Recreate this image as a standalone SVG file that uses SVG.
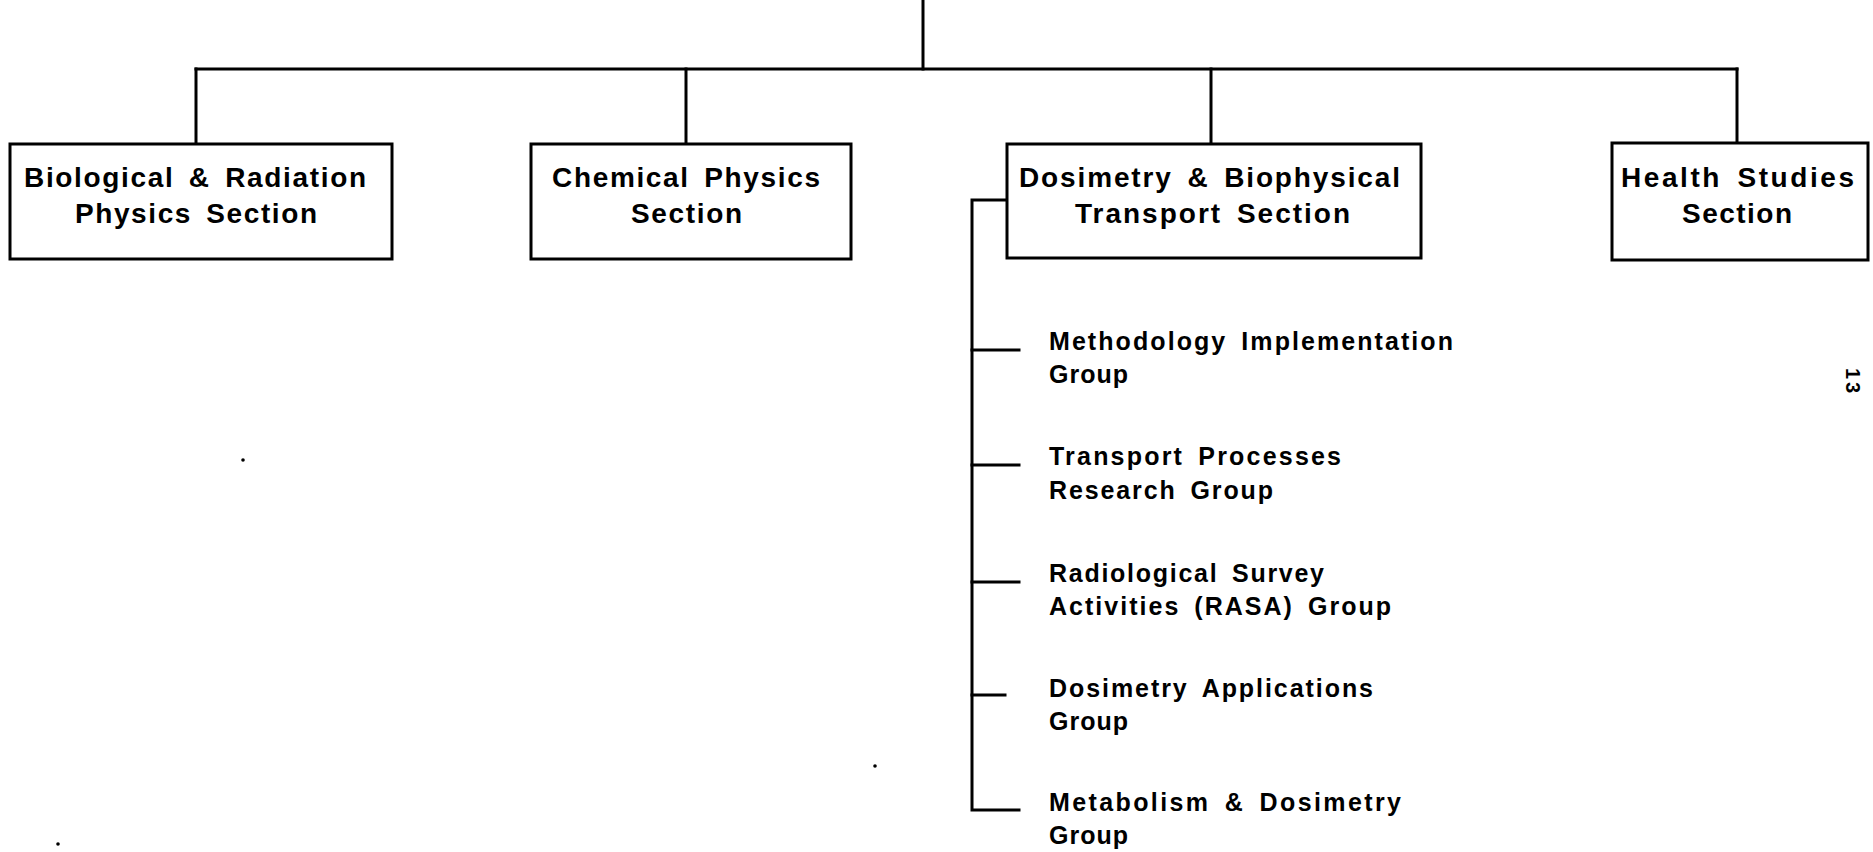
<svg xmlns="http://www.w3.org/2000/svg" width="1873" height="852" viewBox="0 0 1873 852">
<style>
.bg{fill:#fff}
.box{fill:#fff;stroke:#000;stroke-width:3}
.ln{fill:none;stroke:#000;stroke-width:3;stroke-linecap:square}
.sec{font-family:"Liberation Sans",Arial,sans-serif;font-weight:bold;font-size:28px;word-spacing:5px;fill:#000}
.grp{font-family:"Liberation Sans",Arial,sans-serif;font-weight:bold;font-size:25px;word-spacing:5px;fill:#000}
.pg{font-family:"Liberation Sans",Arial,sans-serif;font-weight:bold;font-size:20px;fill:#000}
</style>
<rect class="bg" x="0" y="0" width="1873" height="852"/>
<g id="connectors">
<path class="ln" d="M923,0 V69"/>
<path class="ln" d="M196,69 H1737"/>
<path class="ln" d="M196,69 V142"/>
<path class="ln" d="M686,69 V142"/>
<path class="ln" d="M1211,69 V142"/>
<path class="ln" d="M1737,69 V141"/>
<path class="ln" d="M1007,200 H972 V810 H1019"/>
<path class="ln" d="M972,350 H1019"/>
<path class="ln" d="M972,465 H1019"/>
<path class="ln" d="M972,582 H1019"/>
<path class="ln" d="M972,695 H1005"/>
</g>
<g id="bio-radiation">
<rect class="box" x="10" y="144" width="382" height="115"/>
<text class="sec" x="24" y="187" textLength="342" lengthAdjust="spacing">Biological &amp; Radiation</text>
<text class="sec" x="75" y="223" textLength="242" lengthAdjust="spacing">Physics Section</text>
</g>
<g id="chemical-physics">
<rect class="box" x="531" y="144" width="320" height="115"/>
<text class="sec" x="552" y="187" textLength="268" lengthAdjust="spacing">Chemical Physics</text>
<text class="sec" x="631" y="223" textLength="111" lengthAdjust="spacing">Section</text>
</g>
<g id="dosimetry-biophysical">
<rect class="box" x="1007" y="144" width="414" height="114"/>
<text class="sec" x="1019" y="187" textLength="381" lengthAdjust="spacing">Dosimetry &amp; Biophysical</text>
<text class="sec" x="1075" y="223" textLength="275" lengthAdjust="spacing">Transport Section</text>
</g>
<g id="health-studies">
<rect class="box" x="1612" y="143" width="256" height="117"/>
<text class="sec" x="1621" y="187" textLength="233" lengthAdjust="spacing">Health Studies</text>
<text class="sec" x="1682" y="223" textLength="110" lengthAdjust="spacing">Section</text>
</g>
<g id="methodology">
<text class="grp" x="1049" y="350" textLength="404" lengthAdjust="spacing">Methodology Implementation</text>
<text class="grp" x="1049" y="383" textLength="79" lengthAdjust="spacing">Group</text>
</g>
<g id="transport-processes">
<text class="grp" x="1049" y="465" textLength="292" lengthAdjust="spacing">Transport Processes</text>
<text class="grp" x="1049" y="499" textLength="224" lengthAdjust="spacing">Research Group</text>
</g>
<g id="rasa">
<text class="grp" x="1049" y="582" textLength="275" lengthAdjust="spacing">Radiological Survey</text>
<text class="grp" x="1049" y="615" textLength="342" lengthAdjust="spacing">Activities (RASA) Group</text>
</g>
<g id="dosimetry-applications">
<text class="grp" x="1049" y="697" textLength="324" lengthAdjust="spacing">Dosimetry Applications</text>
<text class="grp" x="1049" y="730" textLength="79" lengthAdjust="spacing">Group</text>
</g>
<g id="metabolism-dosimetry">
<text class="grp" x="1049" y="811" textLength="352" lengthAdjust="spacing">Metabolism &amp; Dosimetry</text>
<text class="grp" x="1049" y="844" textLength="79" lengthAdjust="spacing">Group</text>
</g>
<g id="page-number">
<text class="pg" transform="translate(1846,368) rotate(90)" textLength="25" lengthAdjust="spacing">13</text>
</g>
<g id="specks">
<circle cx="243" cy="460" r="1.8" fill="#000"/>
<circle cx="58" cy="844" r="1.8" fill="#000"/>
<circle cx="875" cy="766" r="1.8" fill="#000"/>
</g>
</svg>
